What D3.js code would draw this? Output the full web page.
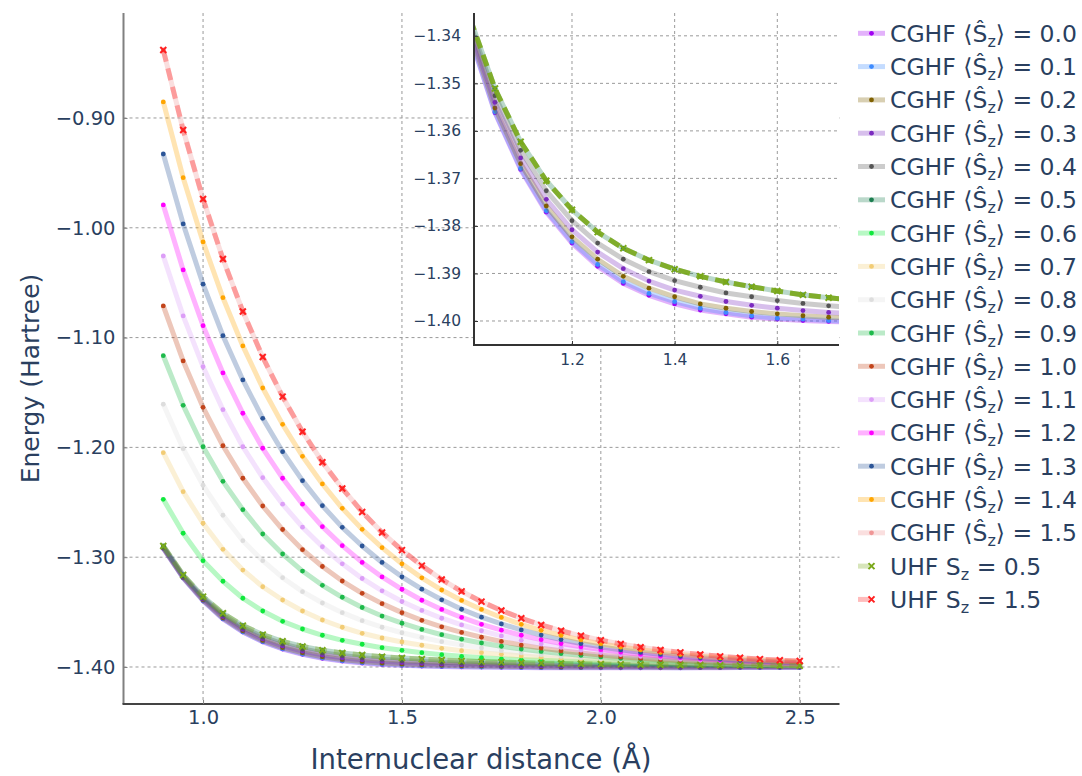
<!DOCTYPE html>
<html>
<head>
<meta charset="utf-8">
<script src="https://cdn.jsdelivr.net/npm/d3@7"></script>
<style>
body { margin: 0; background: #fff; }
text { font-family: "DejaVu Sans", sans-serif; fill: #2a3f5f; }
</style>
</head>
<body>
<svg id="chart" width="1082" height="776"></svg>
<script>
// internuclear distance (Angstrom), same grid for every curve
var distances = [0.90, 0.95, 1.00, 1.05, 1.10, 1.15, 1.20, 1.25, 1.30, 1.35, 1.40,
                 1.45, 1.50, 1.55, 1.60, 1.65, 1.70, 1.75, 1.80, 1.85, 1.90, 1.95,
                 2.00, 2.05, 2.10, 2.15, 2.20, 2.25, 2.30, 2.35, 2.40, 2.45, 2.50];

var spinLabels = ["0.0", "0.1", "0.2", "0.3", "0.4", "0.5", "0.6", "0.7",
                  "0.8", "0.9", "1.0", "1.1", "1.2", "1.3", "1.4", "1.5"];

// CGHF energies (Hartree), one array per <Sz>
var sz00 = [-1.2919, -1.3189, -1.3396, -1.3562, -1.3681, -1.3771, -1.3836, -1.3885, -1.3921, -1.3946, -1.3964, -1.3977, -1.3985, -1.3992, -1.3996, -1.3999, -1.4001, -1.4003, -1.4005, -1.4006, -1.4006, -1.4006, -1.4007, -1.4007, -1.4007, -1.4007, -1.4007, -1.4006, -1.4006, -1.4005, -1.4005, -1.4005, -1.4005];
var sz01 = [-1.2918, -1.3188, -1.3395, -1.3560, -1.3679, -1.3768, -1.3833, -1.3881, -1.3917, -1.3942, -1.3959, -1.3973, -1.3982, -1.3989, -1.3994, -1.3996, -1.3999, -1.4001, -1.4003, -1.4004, -1.4004, -1.4005, -1.4005, -1.4005, -1.4005, -1.4005, -1.4006, -1.4005, -1.4005, -1.4004, -1.4004, -1.4004, -1.4004];
var sz02 = [-1.2914, -1.3183, -1.3388, -1.3552, -1.3669, -1.3758, -1.3823, -1.3870, -1.3906, -1.3931, -1.3949, -1.3964, -1.3973, -1.3980, -1.3985, -1.3989, -1.3992, -1.3994, -1.3996, -1.3998, -1.3999, -1.4000, -1.4001, -1.4001, -1.4001, -1.4002, -1.4002, -1.4002, -1.4002, -1.4001, -1.4001, -1.4001, -1.4001];
var sz03 = [-1.2909, -1.3177, -1.3380, -1.3540, -1.3657, -1.3744, -1.3808, -1.3855, -1.3890, -1.3916, -1.3935, -1.3948, -1.3959, -1.3967, -1.3973, -1.3978, -1.3982, -1.3985, -1.3988, -1.3990, -1.3991, -1.3993, -1.3994, -1.3995, -1.3996, -1.3996, -1.3997, -1.3997, -1.3997, -1.3997, -1.3997, -1.3998, -1.3998];
var sz04 = [-1.2904, -1.3170, -1.3370, -1.3526, -1.3641, -1.3726, -1.3789, -1.3836, -1.3870, -1.3896, -1.3915, -1.3929, -1.3941, -1.3949, -1.3957, -1.3963, -1.3968, -1.3972, -1.3976, -1.3979, -1.3981, -1.3983, -1.3985, -1.3986, -1.3988, -1.3989, -1.3990, -1.3991, -1.3991, -1.3992, -1.3992, -1.3993, -1.3993];
var sz05 = [-1.2898, -1.3162, -1.3359, -1.3511, -1.3623, -1.3705, -1.3766, -1.3813, -1.3847, -1.3872, -1.3891, -1.3906, -1.3918, -1.3928, -1.3937, -1.3945, -1.3951, -1.3956, -1.3961, -1.3965, -1.3968, -1.3971, -1.3974, -1.3976, -1.3978, -1.3980, -1.3982, -1.3983, -1.3984, -1.3985, -1.3986, -1.3987, -1.3988];
var sz06 = [-1.2473, -1.2782, -1.3032, -1.3219, -1.3374, -1.3490, -1.3584, -1.3654, -1.3711, -1.3757, -1.3793, -1.3824, -1.3848, -1.3870, -1.3888, -1.3903, -1.3915, -1.3926, -1.3933, -1.3939, -1.3945, -1.3951, -1.3956, -1.3961, -1.3965, -1.3969, -1.3973, -1.3975, -1.3978, -1.3981, -1.3983, -1.3985, -1.3986];
var sz07 = [-1.2048, -1.2403, -1.2691, -1.2928, -1.3117, -1.3269, -1.3390, -1.3490, -1.3572, -1.3638, -1.3693, -1.3736, -1.3772, -1.3802, -1.3830, -1.3852, -1.3870, -1.3885, -1.3899, -1.3911, -1.3922, -1.3931, -1.3939, -1.3946, -1.3953, -1.3958, -1.3964, -1.3968, -1.3972, -1.3975, -1.3978, -1.3981, -1.3984];
var sz08 = [-1.1607, -1.2012, -1.2345, -1.2618, -1.2850, -1.3032, -1.3187, -1.3314, -1.3417, -1.3505, -1.3578, -1.3638, -1.3688, -1.3731, -1.3769, -1.3800, -1.3827, -1.3851, -1.3871, -1.3888, -1.3903, -1.3915, -1.3926, -1.3935, -1.3944, -1.3951, -1.3957, -1.3963, -1.3967, -1.3972, -1.3975, -1.3979, -1.3982];
var sz09 = [-1.1165, -1.1617, -1.1994, -1.2309, -1.2567, -1.2789, -1.2971, -1.3126, -1.3256, -1.3365, -1.3458, -1.3536, -1.3601, -1.3658, -1.3706, -1.3747, -1.3781, -1.3811, -1.3836, -1.3858, -1.3877, -1.3893, -1.3908, -1.3921, -1.3932, -1.3941, -1.3949, -1.3956, -1.3963, -1.3968, -1.3973, -1.3977, -1.3981];
var sz10 = [-1.0712, -1.1213, -1.1635, -1.1985, -1.2281, -1.2534, -1.2748, -1.2932, -1.3085, -1.3217, -1.3329, -1.3423, -1.3505, -1.3575, -1.3634, -1.3685, -1.3729, -1.3767, -1.3800, -1.3828, -1.3852, -1.3873, -1.3892, -1.3907, -1.3920, -1.3932, -1.3942, -1.3950, -1.3957, -1.3964, -1.3969, -1.3974, -1.3977];
var sz11 = [-1.0257, -1.0803, -1.1265, -1.1657, -1.1994, -1.2276, -1.2517, -1.2727, -1.2905, -1.3060, -1.3194, -1.3306, -1.3403, -1.3485, -1.3556, -1.3617, -1.3670, -1.3717, -1.3757, -1.3791, -1.3821, -1.3846, -1.3868, -1.3887, -1.3903, -1.3917, -1.3929, -1.3939, -1.3948, -1.3955, -1.3962, -1.3967, -1.3972];
var sz12 = [-0.9792, -1.0384, -1.0892, -1.1322, -1.1689, -1.2008, -1.2281, -1.2517, -1.2722, -1.2895, -1.3048, -1.3180, -1.3292, -1.3392, -1.3476, -1.3549, -1.3611, -1.3665, -1.3711, -1.3751, -1.3786, -1.3816, -1.3842, -1.3864, -1.3883, -1.3900, -1.3914, -1.3926, -1.3937, -1.3946, -1.3954, -1.3961, -1.3966];
var sz13 = [-0.9328, -0.9965, -1.0514, -1.0983, -1.1386, -1.1735, -1.2039, -1.2303, -1.2531, -1.2728, -1.2898, -1.3048, -1.3179, -1.3291, -1.3388, -1.3474, -1.3546, -1.3608, -1.3662, -1.3709, -1.3750, -1.3786, -1.3817, -1.3843, -1.3866, -1.3885, -1.3902, -1.3916, -1.3928, -1.3939, -1.3948, -1.3955, -1.3962];
var sz14 = [-0.8854, -0.9544, -1.0129, -1.0637, -1.1076, -1.1459, -1.1790, -1.2081, -1.2333, -1.2555, -1.2746, -1.2913, -1.3060, -1.3188, -1.3299, -1.3394, -1.3476, -1.3549, -1.3611, -1.3666, -1.3712, -1.3753, -1.3788, -1.3818, -1.3843, -1.3866, -1.3885, -1.3902, -1.3915, -1.3927, -1.3938, -1.3947, -1.3954];
var sz15 = [-0.8381, -0.9109, -0.9738, -1.0284, -1.0762, -1.1177, -1.1538, -1.1857, -1.2135, -1.2374, -1.2588, -1.2775, -1.2936, -1.3077, -1.3203, -1.3311, -1.3405, -1.3485, -1.3556, -1.3617, -1.3670, -1.3716, -1.3756, -1.3791, -1.3820, -1.3845, -1.3867, -1.3886, -1.3903, -1.3916, -1.3928, -1.3938, -1.3946];

// UHF curves sit right on top of CGHF 0.5 and 1.5
var uhf05 = sz05.slice();
var uhf15 = sz15.slice();

var cghfSeries = [sz00, sz01, sz02, sz03, sz04, sz05, sz06, sz07,
                  sz08, sz09, sz10, sz11, sz12, sz13, sz14, sz15];
var cghfColors = ["#a100f2", "#3d8bff", "#7f6000", "#7b2abf", "#555555", "#1b7d4f", "#0fe83c", "#f2cc75",
                  "#dddddd", "#1db94a", "#c2441b", "#dc9ef7", "#ff00ff", "#2c5597", "#ffa500", "#f09696"];
var uhfSeries = [uhf05, uhf15];
var uhfLabels = ["0.5", "1.5"];
var uhfColors = ["#7aa81a", "#ff2020"];

var mainYTicks = [-0.9, -1.0, -1.1, -1.2, -1.3, -1.4];
var mainXTicks = [1.0, 1.5, 2.0, 2.5];
var insetYTicks = [-1.34, -1.35, -1.36, -1.37, -1.38, -1.39, -1.40];
var insetXTicks = [1.2, 1.4, 1.6];
var insetCount = 6;   // inset shows only <Sz> = 0.0 ... 0.5

var margin = {top: 13, right: 242.5, bottom: 72, left: 123.5},
    width = 1082 - margin.left - margin.right,
    height = 776 - margin.top - margin.bottom;

var svg = d3.select("#chart");

var x = d3.scaleLinear().domain([0.8, 2.6]).range([margin.left, margin.left + width]);
var y = d3.scaleLinear().domain([-1.4337, -0.8044]).range([margin.top + height, margin.top]);

function pairs(vals) {
    return distances.map(function(d, i) { return [d, vals[i]]; });
}

var crossPath = "M-3,-3L3,3M-3,3L3,-3";

function drawGrid(g, xs, ys, xt, yt, x0, x1, y0, y1) {
    g.selectAll(".gx").data(xt).enter().append("line")
        .attr("x1", function(d) { return xs(d); })
        .attr("x2", function(d) { return xs(d); })
        .attr("y1", y0).attr("y2", y1)
        .attr("stroke", "#9a9a9a").attr("stroke-width", 1)
        .attr("stroke-dasharray", "3,3");
    g.selectAll(".gy").data(yt).enter().append("line")
        .attr("x1", x0).attr("x2", x1)
        .attr("y1", function(d) { return ys(d); })
        .attr("y2", function(d) { return ys(d); })
        .attr("stroke", "#9a9a9a").attr("stroke-width", 1)
        .attr("stroke-dasharray", "3,3");
}

function drawCurves(g, xs, ys, series, colors, uhfAlpha) {
    var line = d3.line()
        .x(function(d) { return xs(d[0]); })
        .y(function(d) { return ys(d[1]); });

    series.forEach(function(vals, i) {
        g.append("path")
            .attr("d", line(pairs(vals)))
            .attr("fill", "none")
            .attr("stroke", colors[i])
            .attr("stroke-opacity", 0.3)
            .attr("stroke-width", 5)
            .attr("stroke-linejoin", "round");
        g.selectAll(".m" + i).data(pairs(vals)).enter().append("circle")
            .attr("cx", function(d) { return xs(d[0]); })
            .attr("cy", function(d) { return ys(d[1]); })
            .attr("r", 2.4)
            .attr("fill", colors[i]);
    });

    uhfSeries.forEach(function(vals, i) {
        if (uhfAlpha[i] === 0) return;
        g.append("path")
            .attr("d", line(pairs(vals)))
            .attr("fill", "none")
            .attr("stroke", uhfColors[i])
            .attr("stroke-opacity", uhfAlpha[i])
            .attr("stroke-width", 5)
            .attr("stroke-dasharray", "12,7");
        g.selectAll(".u" + i).data(pairs(vals)).enter().append("path")
            .attr("d", crossPath)
            .attr("transform", function(d) { return "translate(" + xs(d[0]) + "," + ys(d[1]) + ")"; })
            .attr("fill", "none")
            .attr("stroke", uhfColors[i])
            .attr("stroke-width", 2);
    });
}

// ---- main axes ----
var main = svg.append("g");
drawGrid(main, x, y, mainXTicks, mainYTicks, margin.left, margin.left + width, margin.top, margin.top + height);
drawCurves(main, x, y, cghfSeries, cghfColors, [0.35, 0.35]);

main.append("line")
    .attr("x1", margin.left).attr("x2", margin.left)
    .attr("y1", margin.top).attr("y2", margin.top + height)
    .attr("stroke", "#808080").attr("stroke-width", 2);
main.append("line")
    .attr("x1", margin.left - 1).attr("x2", margin.left + width)
    .attr("y1", margin.top + height).attr("y2", margin.top + height)
    .attr("stroke", "#444").attr("stroke-width", 2);

var yAxis = svg.append("g")
    .attr("transform", "translate(" + margin.left + ",0)")
    .call(d3.axisLeft(y).tickValues(mainYTicks).tickFormat(d3.format(".2f")).tickSize(-4).tickPadding(8));
var xAxis = svg.append("g")
    .attr("transform", "translate(0," + (margin.top + height) + ")")
    .call(d3.axisBottom(x).tickValues(mainXTicks).tickFormat(d3.format(".1f")).tickSize(-4).tickPadding(6));
[yAxis, xAxis].forEach(function(a) {
    a.select(".domain").remove();
    a.selectAll(".tick line").attr("stroke", "#808080");
    a.selectAll("text").attr("font-size", 19.5).attr("fill", "#2a3f5f").attr("font-family", "DejaVu Sans");
});

svg.append("text")
    .attr("transform", "translate(39," + (margin.top + height / 2 + 20) + ") rotate(-90)")
    .attr("text-anchor", "middle")
    .style("font-size", "25px")
    .text("Energy (Hartree)");
svg.append("text")
    .attr("x", 481).attr("y", 769)
    .attr("text-anchor", "middle")
    .style("font-size", "27.5px")
    .text("Internuclear distance (\u00c5)");

// ---- inset ----
var ins = {left: 474, right: 839, top: 13, bottom: 345};
var xi = d3.scaleLinear().domain([1.0091, 1.7202]).range([ins.left, ins.right]);
var yi = d3.scaleLinear().domain([-1.40505, -1.3352]).range([ins.bottom, ins.top]);

svg.append("clipPath").attr("id", "insetClip")
    .append("rect")
    .attr("x", ins.left).attr("y", ins.top)
    .attr("width", ins.right - ins.left).attr("height", ins.bottom - ins.top);

svg.append("rect")
    .attr("x", ins.left).attr("y", ins.top)
    .attr("width", ins.right - ins.left).attr("height", ins.bottom - ins.top)
    .attr("fill", "#fff");

var inset = svg.append("g").attr("clip-path", "url(#insetClip)");
drawGrid(inset, xi, yi, insetXTicks, insetYTicks, ins.left, ins.right, ins.top, ins.bottom);
drawCurves(inset, xi, yi, cghfSeries.slice(0, insetCount), cghfColors, [0.9, 0]);

svg.append("line")
    .attr("x1", ins.left).attr("x2", ins.left)
    .attr("y1", ins.top).attr("y2", ins.bottom)
    .attr("stroke", "#333").attr("stroke-width", 2);
svg.append("line")
    .attr("x1", ins.left - 1).attr("x2", ins.right)
    .attr("y1", ins.bottom).attr("y2", ins.bottom)
    .attr("stroke", "#333").attr("stroke-width", 2);

var yiAxis = svg.append("g")
    .attr("transform", "translate(" + ins.left + ",0)")
    .call(d3.axisLeft(yi).tickValues(insetYTicks).tickFormat(d3.format(".2f")).tickSize(-4).tickPadding(13));
var xiAxis = svg.append("g")
    .attr("transform", "translate(0," + ins.bottom + ")")
    .call(d3.axisBottom(xi).tickValues(insetXTicks).tickFormat(d3.format(".1f")).tickSize(-4).tickPadding(9));
[yiAxis, xiAxis].forEach(function(a) {
    a.select(".domain").remove();
    a.selectAll(".tick line").attr("stroke", "#333");
    a.selectAll("text").attr("font-size", 15.5).attr("fill", "#2a3f5f").attr("font-family", "DejaVu Sans");
});

// ---- legend ----
var legend = svg.append("g").attr("transform", "translate(858,0)");
var rowH = 33.3, row0 = 33.3;

function legendText(g, prefix, bracket, value, yy) {
    var t = g.append("text").attr("x", 32).attr("y", yy + 8.5).style("font-size", "23.5px");
    if (bracket) {
        t.append("tspan").text(prefix + " \u27e8\u015c");
        t.append("tspan").attr("dy", 5).style("font-size", "16px").text("z");
        t.append("tspan").attr("dy", -5).text("\u27e9 = " + value);
    } else {
        t.append("tspan").text(prefix + " S");
        t.append("tspan").attr("dy", 5).style("font-size", "16px").text("z");
        t.append("tspan").attr("dy", -5).text(" = " + value);
    }
}

spinLabels.forEach(function(lab, i) {
    var yy = row0 + i * rowH;
    legend.append("line")
        .attr("x1", 0).attr("x2", 27).attr("y1", yy).attr("y2", yy)
        .attr("stroke", cghfColors[i]).attr("stroke-opacity", 0.3).attr("stroke-width", 5);
    legend.append("circle").attr("cx", 13.5).attr("cy", yy).attr("r", 2.4).attr("fill", cghfColors[i]);
    legendText(legend, "CGHF", true, lab, yy);
});

uhfLabels.forEach(function(lab, i) {
    var yy = row0 + (spinLabels.length + i) * rowH;
    legend.append("line")
        .attr("x1", 0).attr("x2", 12).attr("y1", yy).attr("y2", yy)
        .attr("stroke", uhfColors[i]).attr("stroke-opacity", 0.3).attr("stroke-width", 5);
    legend.append("path").attr("d", crossPath)
        .attr("transform", "translate(13.5," + yy + ")")
        .attr("fill", "none").attr("stroke", uhfColors[i]).attr("stroke-width", 2);
    legendText(legend, "UHF", false, lab, yy);
});
</script>
</body>
</html>
